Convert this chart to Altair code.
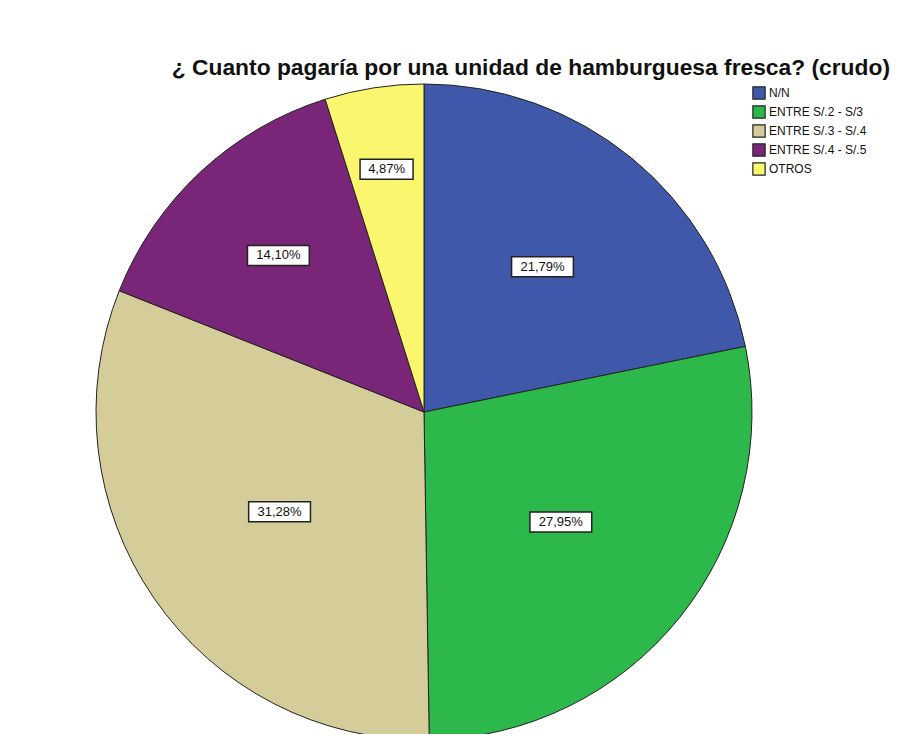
import altair as alt
import pandas as pd

categories = ["N/N", "ENTRE S/.2 - S/3", "ENTRE S/.3 - S/.4", "ENTRE S/.4 - S/.5", "OTROS"]
percentages = [21.79, 27.95, 31.28, 14.10, 4.87]
labels = ["21,79%", "27,95%", "31,28%", "14,10%", "4,87%"]
colors = ["#3F58A9", "#2DB84B", "#D4CD9A", "#7A2678", "#FAF66E"]

df = pd.DataFrame({"cat": categories, "pct": percentages, "lab": labels,
                   "order": list(range(len(categories)))})

CX, CY, R = 416, 324, 328

color = alt.Color("cat:N", scale=alt.Scale(domain=categories, range=colors),
                  sort=categories,
                  legend=alt.Legend(title=None, orient="none", legendX=744, legendY=-2,
                                    symbolType="square", symbolSize=150,
                                    symbolStrokeColor="#222", symbolStrokeWidth=1.2,
                                    labelFont="Liberation Sans", labelFontSize=12,
                                    labelColor="#111", rowPadding=1, labelOffset=3,
                                    symbolOpacity=1))

base = alt.Chart(df)

pie = base.mark_arc(stroke="#222", strokeWidth=1, outerRadius=R).encode(
    theta=alt.Theta("pct:Q", stack=True),
    color=color,
    order=alt.Order("order:Q"),
    x=alt.value(CX), y=alt.value(CY),
)

pos = base.transform_window(
    cum="sum(pct)", sort=[alt.SortField("order")]
).transform_joinaggregate(
    total="sum(pct)"
).transform_calculate(
    mid="(datum.cum - datum.pct/2) / datum.total * 2 * PI",
    rf="max(0.535, 0.80 - 0.0105 * datum.pct)",
).transform_calculate(
    px=f"{CX} + datum.rf * {R} * sin(datum.mid)",
    py=f"{CY} - datum.rf * {R} * cos(datum.mid)",
    hw="length(datum.lab) * 4.4 + 4.5",
).transform_calculate(
    x1="datum.px - datum.hw", x2="datum.px + datum.hw",
    y1="datum.py - 10", y2="datum.py + 10",
)

boxes = pos.mark_rect(fill="white", stroke="#222", strokeWidth=1.5).encode(
    x=alt.X("x1:Q", scale=None, axis=None), x2="x2:Q",
    y=alt.Y("y1:Q", scale=None, axis=None), y2="y2:Q",
)

texts = pos.mark_text(font="Liberation Sans", fontSize=13, color="#111", baseline="middle").encode(
    x=alt.X("px:Q", scale=None, axis=None), y=alt.Y("py:Q", scale=None, axis=None), text="lab:N",
)

chart = alt.layer(pie, boxes, texts).properties(
    width=882, height=646,
    background="white",
    padding={"left": 0, "top": 80, "right": 0, "bottom": 0},
    autosize=alt.AutoSizeParams(type="none"),
    title=alt.TitleParams("¿ Cuanto pagaría por una unidad de hamburguesa fresca? (crudo)",
                          font="Liberation Sans", fontSize=22.8, fontWeight="bold",
                          color="#111", anchor="end", offset=2),
).configure_view(strokeWidth=0, stroke=None)

chart.save("out.html", embed_options={"renderer": "svg", "actions": False})
